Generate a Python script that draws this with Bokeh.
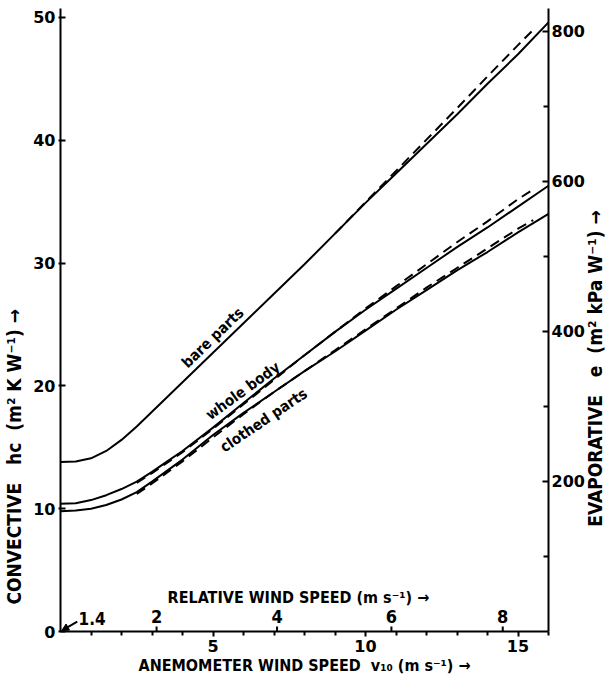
import math
from bokeh.plotting import figure
from bokeh.models import Range1d, LinearAxis, FixedTicker, Label, Arrow, NormalHead
from bokeh.core.properties import value
from bokeh.embed import file_html
from bokeh.resources import INLINE

# ---- data ----
v10 = [0, 0.5, 1, 1.5, 2, 2.5, 3, 3.5, 4, 5, 6, 7, 8, 9, 10, 11, 12, 13, 14, 15, 16]
bare_parts = [13.8, 13.85, 14.1, 14.7, 15.6, 16.7, 17.9, 19.1, 20.3, 22.7, 25.1, 27.5, 29.9,
              32.4, 34.9, 37.3, 39.7, 42.1, 44.6, 47.0, 49.6]
whole_body = [10.4, 10.45, 10.7, 11.1, 11.6, 12.2, 13.0, 13.85, 14.7, 16.6, 18.6, 20.6, 22.5,
              24.4, 26.2, 27.9, 29.6, 31.3, 32.9, 34.6, 36.3]
clothed_parts = [9.8, 9.85, 10.0, 10.3, 10.75, 11.35, 12.2, 13.1, 14.0, 16.0, 17.8, 19.5, 21.2,
                 22.8, 24.5, 26.2, 27.8, 29.4, 30.9, 32.5, 34.0]

v10_dash_bare = [9, 10, 11, 12, 13, 14, 15, 15.5]
bare_dash = [32.4, 34.95, 37.5, 40.05, 42.6, 45.2, 47.75, 49.0]
v10_dash = [2.5, 3, 3.5, 4, 5, 6, 7, 8, 9, 10, 11, 12, 13, 14, 15, 15.5]
whole_dash = [12.1, 12.9, 13.75, 14.6, 16.5, 18.5, 20.5, 22.5, 24.4, 26.3, 28.1, 29.9, 31.7,
              33.4, 35.2, 36.0]
clothed_dash = [11.2, 12.05, 12.95, 13.85, 15.8, 17.7, 19.5, 21.2, 22.9, 24.6, 26.3, 28.0, 29.6,
                31.2, 32.8, 33.5]

left_ticks = [0, 10, 20, 30, 40, 50]
right_ticks = [200, 400, 600, 800]
right_minor = [100, 300, 500, 700]
bottom_ticks = [5, 10, 15]
bottom_minor = [1, 2, 3, 4, 6, 7, 8, 9, 11, 12, 13, 14, 16]
rel_labels = ["1.4", "2", "4", "6", "8"]
rel_pos = [0, 3.15, 7.1, 10.85, 14.5]

NUM_FONT = "DejaVu Sans"
TXT_FONT = "DejaVu Sans Condensed"
NB = "\u00a0"

p = figure(width=609, height=678, x_range=Range1d(0, 16), y_range=Range1d(0, 50.73),
           output_backend="svg", toolbar_location=None,
           min_border_left=58, min_border_right=57, min_border_top=8, min_border_bottom=47)
p.extra_y_ranges = {"evap": Range1d(0, 830.5)}
p.outline_line_color = None
p.grid.visible = False
p.background_fill_color = "white"


def style_axis(ax, title_size):
    ax.axis_line_width = 2
    ax.major_tick_line_width = 2
    ax.minor_tick_line_width = 2
    ax.major_label_text_font = NUM_FONT
    ax.major_label_text_font_style = "bold"
    ax.major_label_text_font_size = "16px"
    ax.major_label_text_color = "black"
    ax.axis_label_text_font = TXT_FONT
    ax.axis_label_text_font_style = "bold"
    ax.axis_label_text_font_size = title_size
    ax.axis_label_text_color = "black"


# left axis
ya = p.yaxis[0]
style_axis(ya, "19px")
ya.ticker = FixedTicker(ticks=left_ticks, minor_ticks=[])
ya.major_tick_in = 5
ya.major_tick_out = 2
ya.major_label_standoff = 3
ya.axis_label_standoff = 5
ya.axis_label = "CONVECTIVE" + NB * 3 + "hc" + NB * 2 + "(m² K W⁻¹)" + NB + "→" + NB * 46

# bottom axis
xa = p.xaxis[0]
style_axis(xa, "16px")
xa.ticker = FixedTicker(ticks=bottom_ticks, minor_ticks=bottom_minor)
xa.major_tick_in = 0
xa.major_tick_out = 5
xa.minor_tick_in = 0
xa.minor_tick_out = 4
xa.major_label_standoff = 3
xa.axis_label_standoff = 1
xa.axis_label = "ANEMOMETER" + NB + "WIND" + NB + "SPEED" + NB * 2 + "v₁₀" + NB + "(m s⁻¹)" + NB + "→"

# right axis (title drawn as a label in the right panel)
ra = LinearAxis(y_range_name="evap",
                ticker=FixedTicker(ticks=right_ticks, minor_ticks=right_minor))
style_axis(ra, "19px")
ra.major_tick_in = 6
ra.major_tick_out = 0
ra.minor_tick_in = 5
ra.minor_tick_out = 0
ra.major_label_standoff = 3
p.add_layout(ra, "right")
p.add_layout(Label(x=7, y=263, x_units="screen", y_units="screen",
                   text="EVAPORATIVE" + NB * 3 + "e" + NB * 2 + "(m² kPa W⁻¹)" + NB + "→",
                   angle=90, angle_units="deg", text_align="center", text_baseline="middle",
                   text_font=TXT_FONT, text_font_size="19px", text_font_style="bold",
                   text_color="black"), "right")

# curves
p.line(v10, bare_parts, line_color="black", line_width=2)
p.line(v10, whole_body, line_color="black", line_width=2)
p.line(v10, clothed_parts, line_color="black", line_width=2)
p.line(v10_dash_bare, bare_dash, line_color="black", line_width=2, line_dash="10 6")
p.line(v10_dash, whole_dash, line_color="black", line_width=2, line_dash="10 6")
p.line(v10_dash, clothed_dash, line_color="black", line_width=2, line_dash="10 6")

# curve labels
p.text(x=[5.2], y=[23.4], text=["bare parts"], angle=44, angle_units="deg",
       text_align="center", text_baseline="bottom", text_font=value(TXT_FONT),
       text_font_size="15px", text_font_style="bold", text_color="black")
p.text(x=[6.15], y=[19.0], text=["whole body"], angle=36, angle_units="deg",
       text_align="center", text_baseline="bottom", text_font=value(TXT_FONT),
       text_font_size="15px", text_font_style="bold", text_color="black")
p.text(x=[6.5], y=[17.8], text=["clothed parts"], angle=34, angle_units="deg",
       text_align="center", text_baseline="top", text_font=value(TXT_FONT),
       text_font_size="15px", text_font_style="bold", text_color="black")

# relative wind speed scale (inside, along the bottom)
p.segment(x0=rel_pos[1:], y0=[0] * 4, x1=rel_pos[1:], y1=[0.4] * 4,
          line_color="black", line_width=2)
p.text(x=rel_pos[1:], y=[0.7] * 4, text=rel_labels[1:], text_align="center",
       text_baseline="bottom", text_font=value(TXT_FONT), text_font_size="18px",
       text_font_style="bold", text_color="black")
p.text(x=[rel_pos[0]], y=[0.5], text=[rel_labels[0]], x_offset=18, text_align="left",
       text_baseline="bottom", text_font=value(TXT_FONT), text_font_size="17px",
       text_font_style="bold", text_color="black")
p.add_layout(Arrow(end=NormalHead(size=7, fill_color="black", line_color="black"),
                   x_start=0.55, y_start=0.8, x_end=0.04, y_end=0.08,
                   line_color="black", line_width=2))

p.add_layout(Label(x=7.8, y=2.75, text="RELATIVE" + NB + "WIND" + NB + "SPEED" + NB + "(m s⁻¹)" + NB + "→",
                   text_align="center", text_baseline="middle",
                   text_font=TXT_FONT, text_font_size="16px", text_font_style="bold",
                   text_color="black"))

open("out.html", "w").write(file_html(p, INLINE))
